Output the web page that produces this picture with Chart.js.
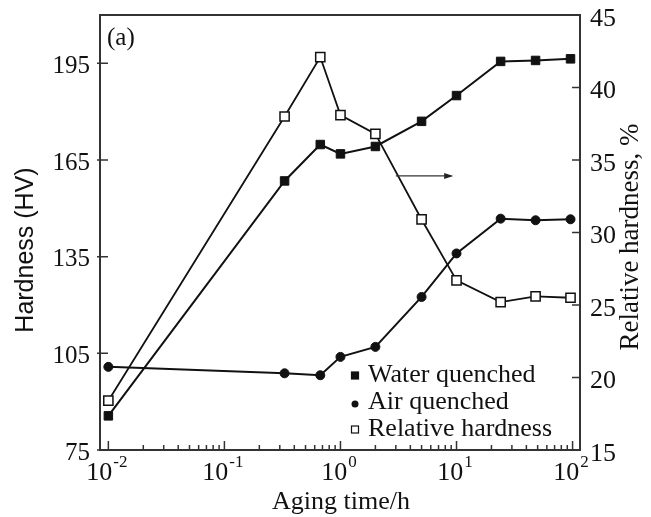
<!DOCTYPE html>
<html>
<head>
<meta charset="utf-8">
<script src="https://cdn.jsdelivr.net/npm/chart.js@4.4.0/dist/chart.umd.min.js"></script>
<style>
html, body { margin: 0; padding: 0; background: #fff; }
#wrap { position: relative; width: 651px; height: 517px; }
</style>
</head>
<body>
<div id="wrap"><canvas id="chart"></canvas></div>
<script>
// aging time in hours
const agingTimes = [0.01, 0.33, 0.67, 1, 2, 5, 10, 24, 48, 96]
// hardness HV (left axis)
const waterQuenched = [85.6, 158.5, 169.8, 166.9, 169.2, 177.0, 185.0, 195.6, 195.9, 196.4]
const airQuenched = [100.8, 98.8, 98.2, 103.9, 107.0, 122.5, 136.0, 146.8, 146.3, 146.6]
// relative hardness % (right axis)
const relativeHardness = [18.4, 38.0, 42.1, 38.1, 36.8, 30.9, 26.7, 25.2, 25.6, 25.5]

const hardnessTicks = [75, 105, 135, 165, 195]
const relativeTicks = [15, 20, 25, 30, 35, 40, 45]
const timeDecades = [-2, -1, 0, 1, 2]

// arrow pointing to the right axis (data units: hours, %)
const arrowFrom = [3, 33.9]
const arrowTo = [9, 33.9]

const serif = "'Liberation Serif', 'Times New Roman', serif"
const sans = "'Liberation Sans', Arial, sans-serif"
const ink = '#111'

const timeTicks = []
timeDecades.forEach(e => {
    for (let m = 1; m <= 9; m++) {
        if (e === 2 && m > 1) break
        timeTicks.push({ value: m * Math.pow(10, e), major: m === 1, exp: e })
    }
})

function pts(ys) {
    return agingTimes.map((t, i) => ({ x: t, y: ys[i] }))
}

const extras = {
    id: 'extras',
    afterDatasetsDraw(chart) {
        const ctx = chart.ctx
        const a = chart.chartArea
        const sx = chart.scales.x, sy = chart.scales.y, sy1 = chart.scales.y1
        ctx.save()

        // frame
        ctx.strokeStyle = '#333'
        ctx.lineWidth = 2
        ctx.strokeRect(a.left, a.top, a.right - a.left, a.bottom - a.top)

        // inward ticks
        ctx.lineWidth = 1.5
        ctx.beginPath()
        hardnessTicks.forEach(v => {
            const y = sy.getPixelForValue(v)
            ctx.moveTo(a.left - 3, y); ctx.lineTo(a.left + 8, y)
        })
        relativeTicks.forEach(v => {
            const y = sy1.getPixelForValue(v)
            ctx.moveTo(a.right - 8, y); ctx.lineTo(a.right + 1, y)
        })
        timeTicks.forEach(t => {
            const x = sx.getPixelForValue(t.value)
            ctx.moveTo(x, a.bottom); ctx.lineTo(x, a.bottom - (t.major ? 9 : 5))
        })
        ctx.stroke()

        // x tick labels 10^n
        ctx.fillStyle = ink
        ctx.textBaseline = 'alphabetic'
        ctx.textAlign = 'left'
        timeDecades.forEach(e => {
            const x = sx.getPixelForValue(Math.pow(10, e))
            const sup = e < 0 ? '-' + (-e) : String(e)
            ctx.font = '26px ' + serif
            const wb = ctx.measureText('10').width
            ctx.font = '17px ' + serif
            const we = ctx.measureText(sup).width
            const x0 = x - (wb + we) / 2 - 2
            ctx.font = '26px ' + serif
            ctx.fillText('10', x0, a.bottom + 30)
            ctx.font = '17px ' + serif
            ctx.fillText(sup, x0 + wb + 1, a.bottom + 17)
        })

        // axis titles
        ctx.textAlign = 'center'
        ctx.textBaseline = 'middle'
        ctx.font = '26px ' + serif
        ctx.fillText('Aging time/h', 341, 502)
        ctx.save()
        ctx.translate(26, 250)
        ctx.rotate(-Math.PI / 2)
        ctx.font = '25px ' + sans
        ctx.fillText('Hardness (HV)', 0, 0)
        ctx.restore()
        ctx.save()
        ctx.translate(631, 237)
        ctx.rotate(-Math.PI / 2)
        ctx.font = '27px ' + serif
        ctx.fillText('Relative hardness, %', 0, 0)
        ctx.restore()

        // panel label
        ctx.textAlign = 'left'
        ctx.font = '25px ' + serif
        ctx.fillText('(a)', a.left + 7, a.top + 23)

        // arrow
        const ax0 = sx.getPixelForValue(arrowFrom[0]), ay0 = sy1.getPixelForValue(arrowFrom[1])
        const ax1 = sx.getPixelForValue(arrowTo[0]), ay1 = sy1.getPixelForValue(arrowTo[1])
        ctx.strokeStyle = '#333'
        ctx.lineWidth = 1.2
        ctx.beginPath()
        ctx.moveTo(ax0, ay0); ctx.lineTo(ax1, ay1)
        ctx.stroke()
        ctx.fillStyle = '#222'
        ctx.beginPath()
        ctx.moveTo(ax1 + 2, ay1)
        ctx.lineTo(ax1 - 7, ay1 - 3)
        ctx.lineTo(ax1 - 7, ay1 + 3)
        ctx.closePath()
        ctx.fill()

        // legend
        const lx = 355
        const rows = [375, 402, 429]
        ctx.font = '26px ' + serif
        ctx.textBaseline = 'middle'
        chart.data.datasets.forEach((ds, i) => {
            const y = rows[i]
            ctx.fillStyle = ds.pointBackgroundColor
            ctx.strokeStyle = ink
            ctx.lineWidth = 1.2
            if (ds.pointStyle === 'circle') {
                ctx.beginPath(); ctx.arc(lx, y + 2, 3.5, 0, Math.PI * 2); ctx.fill()
            } else {
                ctx.fillRect(lx - 3.5, y - 3, 7, 7)
                ctx.strokeRect(lx - 3.5, y - 3, 7, 7)
            }
            ctx.fillStyle = ink
            ctx.fillText(ds.label, lx + 13, y)
        })
        ctx.restore()
    }
}

new Chart(document.getElementById('chart').getContext('2d'), {
    type: 'line',
    data: {
        datasets: [
            {
                label: 'Water quenched',
                data: pts(waterQuenched),
                yAxisID: 'y',
                borderColor: ink,
                borderWidth: 2,
                pointStyle: 'rect',
                pointRadius: 6,
                pointBackgroundColor: ink,
                pointBorderColor: ink,
                pointBorderWidth: 1
            },
            {
                label: 'Air quenched',
                data: pts(airQuenched),
                yAxisID: 'y',
                borderColor: ink,
                borderWidth: 2,
                pointStyle: 'circle',
                pointRadius: 4.5,
                pointBackgroundColor: ink,
                pointBorderColor: ink,
                pointBorderWidth: 1
            },
            {
                label: 'Relative hardness',
                data: pts(relativeHardness),
                yAxisID: 'y1',
                borderColor: ink,
                borderWidth: 1.8,
                pointStyle: 'rect',
                pointRadius: 6.5,
                pointBackgroundColor: '#fff',
                pointBorderColor: ink,
                pointBorderWidth: 1.5
            }
        ]
    },
    options: {
        responsive: true,
        maintainAspectRatio: false,
        animation: false,
        layout: { padding: { top: 15, left: 0, right: 0, bottom: 0 } },
        elements: { line: { tension: 0 } },
        plugins: {
            legend: { display: false },
            tooltip: { enabled: false }
        },
        scales: {
            x: {
                type: 'logarithmic',
                position: 'bottom',
                min: Math.pow(10, -2.072),
                max: Math.pow(10, 2.064),
                afterBuildTicks: s => { s.ticks = timeTicks.map(t => ({ value: t.value })) },
                afterFit: s => { s.height = 67; s.paddingLeft = 0; s.paddingRight = 0 },
                grid: { display: false, drawTicks: false },
                border: { display: false },
                ticks: { display: false }
            },
            y: {
                type: 'linear',
                position: 'left',
                min: 75,
                max: 210,
                afterBuildTicks: s => { s.ticks = hardnessTicks.map(v => ({ value: v })) },
                afterFit: s => { s.width = 100; s.paddingTop = 0; s.paddingBottom = 0 },
                grid: { display: false, drawTicks: false },
                border: { display: false },
                ticks: { color: ink, padding: 10, labelOffset: 3, font: { family: serif, size: 25 } }
            },
            y1: {
                type: 'linear',
                position: 'right',
                min: 15,
                max: 45,
                afterBuildTicks: s => { s.ticks = relativeTicks.map(v => ({ value: v })) },
                afterFit: s => { s.width = 71; s.paddingTop = 0; s.paddingBottom = 0 },
                grid: { display: false, drawTicks: false },
                border: { display: false },
                ticks: { color: ink, padding: 10, labelOffset: 4, font: { family: serif, size: 26 } }
            }
        }
    },
    plugins: [extras]
});
</script>
</body>
</html>
